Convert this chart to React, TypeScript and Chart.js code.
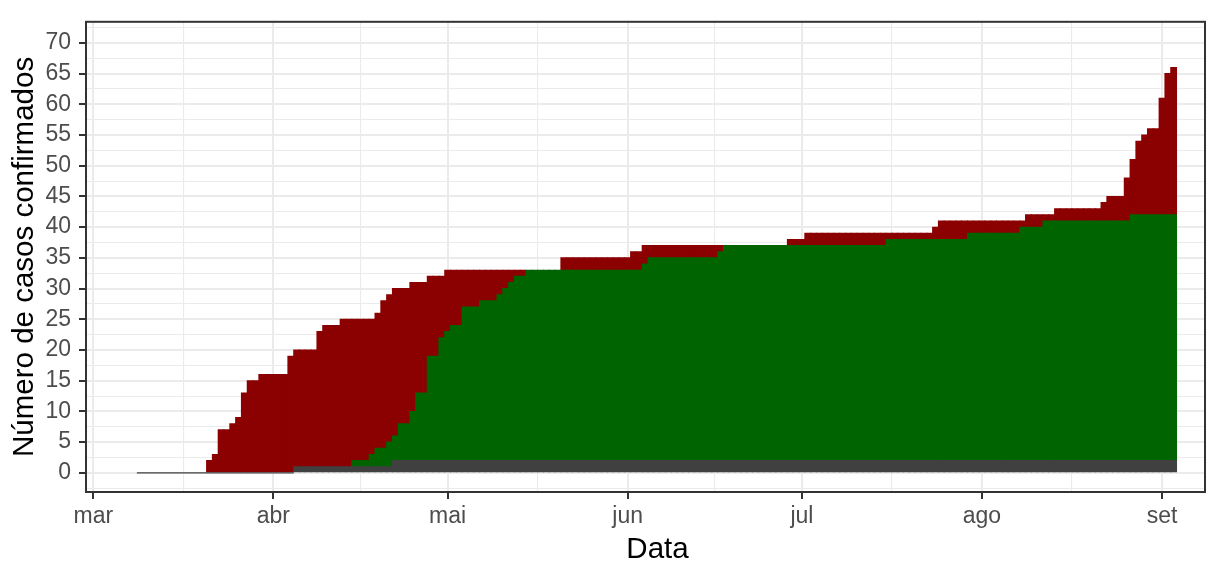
import React, { useEffect, useRef } from 'react';
import { Chart, registerables } from 'chart.js';

Chart.register(...registerables);

// Daily series, first value = 2020-03-09, one value per day through 2020-09-03
const START_DATE = '2020-03-09';

const confirmed = [
  0, 0, 0, 0, 0, 0, 0, 0, 0, 0, 0, 0,
  2, 3, 7, 7, 8, 9, 13, 15, 15, 16, 16, 16, 16, 16, 19,
  20, 20, 20, 20, 23, 24, 24, 24, 25, 25, 25, 25, 25, 25, 26, 28, 29,
  30, 30, 30, 31, 31, 31, 32, 32, 32,
  33, 33, 33, 33, 33, 33, 33, 33, 33, 33, 33, 33, 33, 33, 33, 33, 33, 33, 33, 33,
  35, 35, 35, 35, 35, 35, 35, 35, 35, 35, 35, 35, 36, 36,
  37, 37, 37, 37, 37, 37, 37, 37, 37, 37, 37, 37, 37, 37, 37, 37, 37, 37, 37, 37, 37, 37, 37, 37, 37,
  38, 38, 38, 39, 39, 39, 39, 39, 39, 39, 39, 39, 39, 39, 39, 39, 39, 39, 39, 39, 39, 39, 39, 39, 39,
  40, 41, 41, 41, 41, 41, 41, 41, 41, 41, 41, 41, 41, 41, 41, 41, 42, 42, 42, 42, 42,
  43, 43, 43, 43, 43, 43, 43, 43, 44, 45, 45, 45, 48, 51, 54, 55, 56, 56, 61, 65, 66,
];

const recovered = [
  0, 0, 0, 0, 0, 0, 0, 0, 0, 0, 0, 0,
  0, 0, 0, 0, 0, 0, 0, 0, 0, 0, 0, 0, 0, 0, 0,
  0, 0, 0, 0, 0, 0, 0, 0, 0, 0, 1, 1, 1, 2, 3, 3, 4,
  4, 6, 6, 8, 11, 11, 17, 17, 20,
  21, 22, 22, 25, 25, 25, 26, 26, 26, 27, 28, 29, 30, 30, 31, 31, 31, 31, 31, 31,
  31, 31, 31, 31, 31, 31, 31, 31, 31, 31, 31, 31, 31, 31,
  32, 33, 33, 33, 33, 33, 33, 33, 33, 33, 33, 33, 33, 34, 35, 35, 35, 35, 35, 35, 35, 35, 35, 35, 35,
  35, 35, 35, 35, 35, 35, 35, 35, 35, 35, 35, 35, 35, 35, 35, 35, 35, 36, 36, 36, 36, 36, 36, 36, 36,
  36, 36, 36, 36, 36, 36, 37, 37, 37, 37, 37, 37, 37, 37, 37, 38, 38, 38, 38, 39, 39,
  39, 39, 39, 39, 39, 39, 39, 39, 39, 39, 39, 39, 39, 40, 40, 40, 40, 40, 40, 40, 40,
];

const deaths = [
  0, 0, 0, 0, 0, 0, 0, 0, 0, 0, 0, 0,
  0, 0, 0, 0, 0, 0, 0, 0, 0, 0, 0, 0, 0, 0, 0,
  1, 1, 1, 1, 1, 1, 1, 1, 1, 1, 1, 1, 1, 1, 1, 1, 1,
  2, 2, 2, 2, 2, 2, 2, 2, 2,
  2, 2, 2, 2, 2, 2, 2, 2, 2, 2, 2, 2, 2, 2, 2, 2, 2, 2, 2, 2,
  2, 2, 2, 2, 2, 2, 2, 2, 2, 2, 2, 2, 2, 2,
  2, 2, 2, 2, 2, 2, 2, 2, 2, 2, 2, 2, 2, 2, 2, 2, 2, 2, 2, 2, 2, 2, 2, 2, 2,
  2, 2, 2, 2, 2, 2, 2, 2, 2, 2, 2, 2, 2, 2, 2, 2, 2, 2, 2, 2, 2, 2, 2, 2, 2,
  2, 2, 2, 2, 2, 2, 2, 2, 2, 2, 2, 2, 2, 2, 2, 2, 2, 2, 2, 2, 2,
  2, 2, 2, 2, 2, 2, 2, 2, 2, 2, 2, 2, 2, 2, 2, 2, 2, 2, 2, 2, 2,
];

const monthBreaks = ['2020-03-01', '2020-04-01', '2020-05-01', '2020-06-01', '2020-07-01', '2020-08-01', '2020-09-01'];
const monthLabels = ['mar', 'abr', 'mai', 'jun', 'jul', 'ago', 'set'];
const yBreaks = [0, 5, 10, 15, 20, 25, 30, 35, 40, 45, 50, 55, 60, 65, 70];

const X_TITLE = 'Data';
const Y_TITLE = 'Número de casos confirmados';

// ---- helpers ----
const DAY_MS = 86400000;
const ORIGIN = Date.parse('2020-03-01');
const dayOf = (s: string) => Math.round((Date.parse(s) - ORIGIN) / DAY_MS);

const x0 = dayOf(START_DATE);
const xMajor = monthBreaks.map(dayOf);
const xMinor = xMajor.slice(1).map((v, i) => (v + xMajor[i]) / 2);
const yMinor = [yBreaks[0] - 2.5, ...yBreaks.map((v) => v + 2.5)];

const X_MIN = -1.26;
const X_MAX = 191.4;
const Y_MIN = -3.12;
const Y_MAX = 73.43;

const FONT = "'Liberation Sans', Arial, Helvetica, sans-serif";
const TICK_SIZE = 23;
const TITLE_SIZE = 29.5;

const active = confirmed.map((c, i) => c - recovered[i] - deaths[i]);

// zero-height "deaths" bars show as a hairline at 0 in the original: span each such day
const zeroDeathLine = deaths.flatMap((v, i) =>
  v === 0 ? [{ x: x0 + i - 0.5, y: 0 }, { x: x0 + i + 0.5, y: 0 }] : []
);

const panelBorder = {
  id: 'panelBorder',
  afterDraw(chart: any) {
    const { ctx, chartArea } = chart;
    const { left, top, right, bottom } = chartArea;
    ctx.save();
    ctx.strokeStyle = '#333333';
    ctx.lineWidth = 2;
    ctx.strokeRect(left, top, right - left, bottom - top);
    // x axis title
    ctx.fillStyle = '#000000';
    ctx.font = `${TITLE_SIZE}px ${FONT}`;
    ctx.textAlign = 'center';
    ctx.textBaseline = 'alphabetic';
    ctx.fillText(X_TITLE, (left + right) / 2 + 12, 557.5);
    ctx.restore();
  },
};

export default function App() {
  const ref = useRef<HTMLCanvasElement | null>(null);

  useEffect(() => {
    document.body.style.margin = '0';
    const canvas = ref.current;
    if (!canvas) return;

    const isMajorX = (v: number) => xMajor.includes(v);
    const isMajorY = (v: number) => yBreaks.includes(v);

    const chart = new Chart(canvas, {
      type: 'bar',
      data: {
        datasets: [
          {
            type: 'line',
            label: 'zero',
            data: zeroDeathLine,
            borderColor: '#404040',
            borderWidth: 1.3,
            pointRadius: 0,
            fill: false,
            tension: 0,
            stack: 'zero',
          } as any,
          {
            label: 'Óbitos',
            data: deaths.map((v, i) => ({ x: x0 + i, y: v === 0 ? null : v })),
            backgroundColor: '#404040',
            borderWidth: 0,
            inflateAmount: 0.5,
            barPercentage: 1,
            categoryPercentage: 1,
            stack: 's',
          } as any,
          {
            label: 'Recuperados',
            data: recovered.map((v, i) => ({ x: x0 + i, y: v === 0 ? null : v })),
            backgroundColor: '#006400',
            borderWidth: 0,
            inflateAmount: 0.5,
            barPercentage: 1,
            categoryPercentage: 1,
            stack: 's',
          } as any,
          {
            label: 'Ativos',
            data: active.map((v, i) => ({ x: x0 + i, y: v === 0 ? null : v })),
            backgroundColor: '#8B0000',
            borderWidth: 0,
            inflateAmount: 0.5,
            barPercentage: 1,
            categoryPercentage: 1,
            stack: 's',
          } as any,
        ],
      },
      options: {
        animation: false,
        responsive: false,
        devicePixelRatio: 1,
        layout: { padding: { left: 0, right: 16, top: 9, bottom: 0 } },
        plugins: {
          legend: { display: false },
          tooltip: { enabled: false },
        },
        scales: {
          x: {
            type: 'linear',
            min: X_MIN,
            max: X_MAX,
            bounds: 'data',
            stacked: true,
            offset: false,
            afterBuildTicks: (s: any) => {
              s.ticks = [...xMajor, ...xMinor].sort((a, b) => a - b).map((v) => ({ value: v }));
            },
            afterFit: (s: any) => {
              s.height = 69;
            },
            ticks: {
              autoSkip: false,
              maxRotation: 0,
              minRotation: 0,
              padding: 4,
              color: '#4D4D4D',
              font: { family: FONT, size: TICK_SIZE },
              callback: (v: any) => {
                const i = xMajor.indexOf(Number(v));
                return i >= 0 ? monthLabels[i] : '';
              },
            },
            grid: {
              offset: false,
              color: '#EBEBEB',
              lineWidth: (c: any) => (c.tick && isMajorX(c.tick.value) ? 2 : 1.1),
              drawTicks: true,
              tickLength: 7,
              tickWidth: 2,
              tickColor: (c: any) => (c.tick && isMajorX(c.tick.value) ? '#333333' : 'rgba(0,0,0,0)'),
            },
            border: { display: false },
            title: { display: false },
          } as any,
          y: {
            type: 'linear',
            min: Y_MIN,
            max: Y_MAX,
            bounds: 'data',
            stacked: true,
            afterBuildTicks: (s: any) => {
              s.ticks = [...yBreaks, ...yMinor]
                .filter((v) => v >= Y_MIN && v <= Y_MAX)
                .sort((a, b) => a - b)
                .map((v) => ({ value: v }));
            },
            afterFit: (s: any) => {
              s.width = 86;
            },
            ticks: {
              autoSkip: false,
              padding: 8,
              color: '#4D4D4D',
              font: { family: FONT, size: TICK_SIZE },
              callback: (v: any) => (isMajorY(Number(v)) ? String(v) : ''),
            },
            grid: {
              color: '#EBEBEB',
              lineWidth: (c: any) => (c.tick && isMajorY(c.tick.value) ? 2 : 1.1),
              drawTicks: true,
              tickLength: 7,
              tickWidth: 2,
              tickColor: (c: any) => (c.tick && isMajorY(c.tick.value) ? '#333333' : 'rgba(0,0,0,0)'),
            },
            border: { display: false },
            title: {
              display: true,
              text: Y_TITLE,
              color: '#000000',
              font: { family: FONT, size: TITLE_SIZE, lineHeight: 1.2 },
              padding: { top: 7.5, bottom: 0 },
            },
          } as any,
        },
      },
      plugins: [panelBorder],
    } as any);

    return () => chart.destroy();
  }, []);

  return (
    <div style={{ width: 1221, height: 561 }}>
      <canvas ref={ref} width={1221} height={561} style={{ display: 'block', width: 1221, height: 561 }} />
    </div>
  );
}
